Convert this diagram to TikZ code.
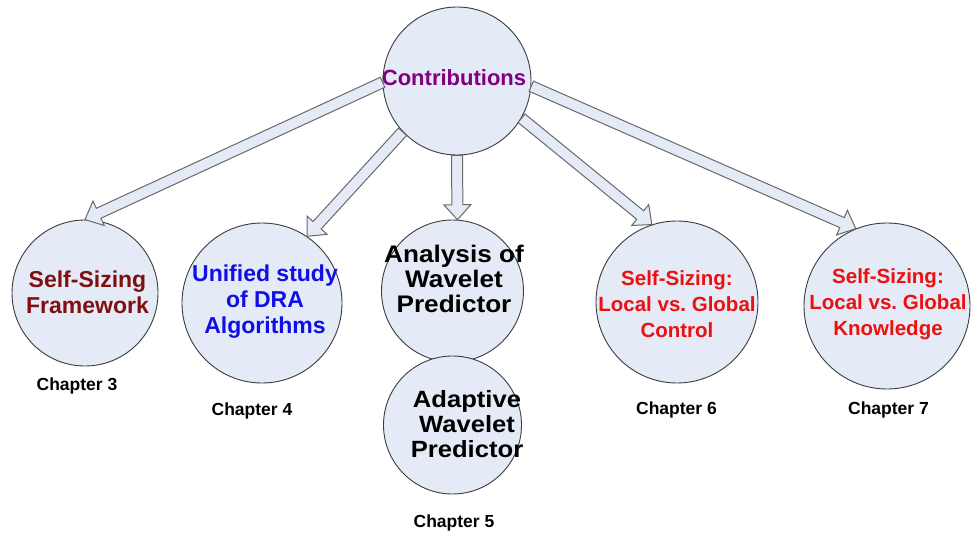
\documentclass[tikz,border=0pt]{standalone}
\usepackage{fontspec}
\setmainfont{Liberation Sans}
\newfontfamily\widesans[FakeStretch=1.09]{Liberation Sans}
\usetikzlibrary{calc}

\definecolor{bubblefill}{RGB}{228,234,246}
\definecolor{rim}{RGB}{60,60,60}
\definecolor{arrowrim}{RGB}{105,105,105}
\definecolor{contrib}{RGB}{128,0,128}
\definecolor{darkred}{RGB}{128,16,16}
\definecolor{drablue}{RGB}{16,16,230}
\definecolor{selfred}{RGB}{236,16,16}

\tikzset{
  bubble/.style={circle, draw=rim, line width=0.9pt, fill=bubblefill,
                 inner sep=0pt, minimum size=#1},
  lbl/.style={align=center, inner sep=0pt,
              font=\bfseries\fontsize{#1}{26}\selectfont},
  lblwide/.style={align=center, inner sep=0pt,
              font=\widesans\bfseries\fontsize{#1}{25}\selectfont},
  chap/.style={inner sep=0pt, font=\bfseries\fontsize{17.5}{20}\selectfont},
  fatarrowstyle/.style={draw=arrowrim, fill=bubblefill, line width=1pt,
                        line join=miter}
}

% hollow block arrow from #1 to the tip #2; #3 prefixes helper coordinates
\newcommand{\fatarrow}[3]{%
  \coordinate (#3s) at (#1);
  \coordinate (#3t) at (#2);
  \coordinate (#3h) at ($(#3t)!15pt!(#3s)$);
  \draw[fatarrowstyle]
    ($(#3s)!5.5pt!90:(#3t)$) -- ($(#3h)!5.5pt!90:(#3t)$)
    -- ($(#3h)!13.5pt!90:(#3t)$) -- (#3t)
    -- ($(#3h)!13.5pt!-90:(#3t)$) -- ($(#3h)!5.5pt!-90:(#3t)$)
    -- ($(#3s)!5.5pt!-90:(#3t)$) -- cycle;
}

\begin{document}
\begin{tikzpicture}[x=1pt, y=-1pt]
  \useasboundingbox (0,0) rectangle (972,538);
  \fill[white] (0,0) rectangle (972,538);

  % circles
  \node[bubble=148pt] (c0) at (457,81) {};
  \node[bubble=146pt] (c1) at (85,293) {};
  \node[bubble=160pt] (c2) at (262,303) {};
  \node[bubble=142pt] (c3) at (452.5,291) {};
  \node[bubble=138pt] (c4) at (452.5,425) {};
  \node[bubble=162pt] (c6) at (677,302) {};
  \node[bubble=166pt] (c7) at (887,306) {};

  % block arrows
  \fatarrow{c0.181}{c1.90}{a1}
  \fatarrow{c0.223}{c2.56}{a2}
  \fatarrow{c0.270}{c3.86}{a3}
  \fatarrow{c0.330}{c6.108}{a4}
  \fatarrow{c0.356}{c7.112}{a5}

  % texts
  \node[lbl=22, text=contrib] (t0) at (454,78) {Contributions};
  \node[lbl=23, text=darkred] (t1) at (87.5,292) {Self-Sizing\\Framework};
  \node[lbl=23, text=drablue] (t2) at (265,302) {Unified study\\of DRA\\Algorithms};
  \node[lblwide=24] (t3) at (454,279) {Analysis of\\Wavelet\\Predictor};
  \node[lblwide=23.5] (t4) at (467,424) {Adaptive\\Wavelet\\Predictor};
  \node[lbl=20.5, text=selfred] (t6) at (677,304) {Self-Sizing:\\Local vs.\ Global\\Control};
  \node[lbl=20.5, text=selfred] (t7) at (888,304) {Self-Sizing:\\Local vs.\ Global\\Knowledge};

  % chapter captions
  \node[chap] (ch3) at (77,386) {Chapter 3};
  \node[chap] (ch4) at (252,411) {Chapter 4};
  \node[chap] (ch5) at (454,523) {Chapter 5};
  \node[chap] (ch6) at (676.5,410) {Chapter 6};
  \node[chap] (ch7) at (888.5,410) {Chapter 7};
\end{tikzpicture}
\end{document}
